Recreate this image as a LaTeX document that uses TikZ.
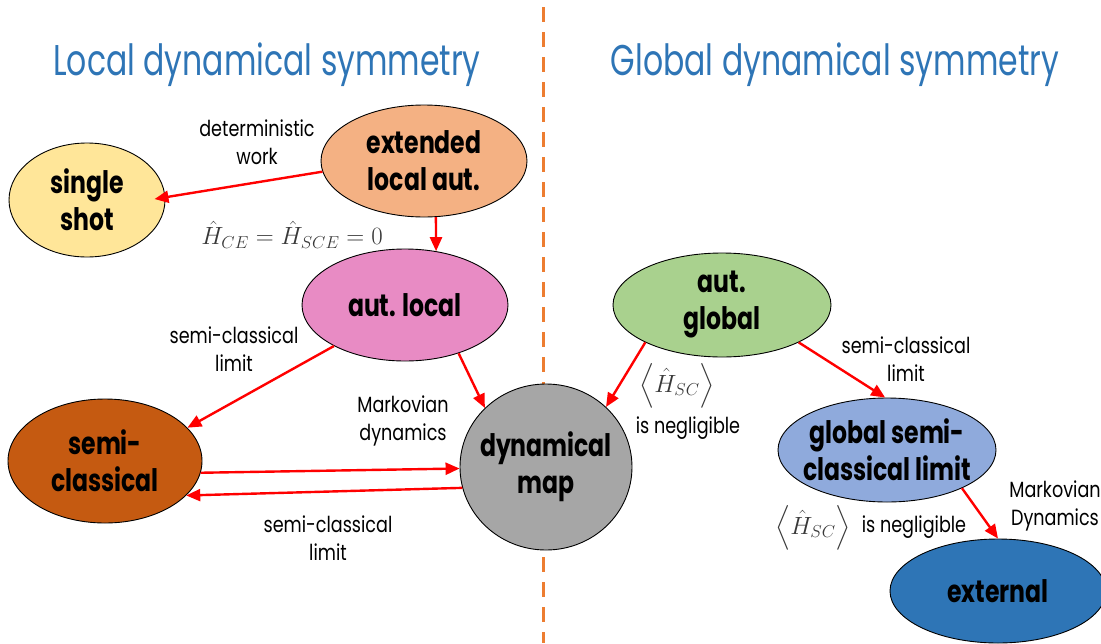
\documentclass[tikz,border=0pt]{standalone}
\usepackage{exscale}
\usepackage[no-math]{fontspec}
\usetikzlibrary{shapes.geometric,arrows.meta}
\newfontfamily\nfont[FakeStretch=0.76]{Poppins}
\newfontfamily\lfont[FakeStretch=0.8]{Poppins}
\newfontfamily\tfont[FakeStretch=0.733]{Poppins}
\definecolor{cyellow}{HTML}{FFE699}
\definecolor{corange}{HTML}{F4B183}
\definecolor{cpink}{HTML}{E88BC4}
\definecolor{cbrown}{HTML}{C55A11}
\definecolor{cgray}{HTML}{A6A6A6}
\definecolor{cgreen}{HTML}{A9D18E}
\definecolor{clblue}{HTML}{8FAADC}
\definecolor{cblue}{HTML}{2E75B6}
\definecolor{cdash}{HTML}{ED7D31}
\definecolor{cred}{HTML}{FF0000}
\definecolor{cmath}{HTML}{383838}
\newcommand{\angH}{\left\langle\vrule height 24pt depth 12pt width 0pt\hat H_{SC}\right\rangle}
\tikzset{
  bub/.style={ellipse, draw=black, line width=0.9pt, inner sep=0pt},
  btxt/.style={align=center, inner sep=0pt, text=black,
    font=\nfont\bfseries\fontsize{31}{37}\selectfont},
  arr/.style={draw=cred, line width=2.4pt, -{Triangle[length=14pt,width=12pt]}},
  lab/.style={font=\lfont\fontsize{22}{28}\selectfont, align=center, text=black, inner sep=0pt},
  mlab/.style={font=\fontsize{24}{28}\selectfont, text=cmath, inner sep=0pt},
  ttl/.style={font=\tfont\fontsize{43}{50}\selectfont, text=cblue, inner sep=0pt},
  divider/.style={draw=cdash, line width=3pt, dash pattern=on 15pt off 10pt},
}
\begin{document}
\begin{tikzpicture}[x=1pt,y=-1pt]
\useasboundingbox (0,0) rectangle (1101,643);
% divider
\coordinate (dtop) at (543,7);
\coordinate (dbot) at (543,643);
\draw[divider] (dtop) -- (dbot);
% titles
\node[ttl] (tl) at (267,65) {Local dynamical symmetry};
\node[ttl] (tg) at (835,65) {Global dynamical symmetry};
% nodes
\node[bub, fill=cyellow, minimum width=156pt, minimum height=114pt,
  label={[btxt]center:{single\\shot}}] (single) at (87,200) {};
\node[bub, fill=corange, minimum width=206pt, minimum height=112pt,
  label={[btxt]center:{extended\\local aut.}}] (ext) at (424,161) {};
\node[bub, fill=cpink, minimum width=206pt, minimum height=112pt,
  label={[btxt]center:{aut. local}}] (aut) at (405,305) {};
\node[bub, fill=cbrown, minimum width=194pt, minimum height=124pt,
  label={[btxt]center:{semi-\\classical}}] (semi) at (105,461) {};
\node[bub, fill=cgray, minimum width=172pt, minimum height=166pt,
  label={[btxt]center:{dynamical\\map}}] (dyn) at (546,467) {};
\node[bub, fill=cgreen, minimum width=218pt, minimum height=104pt,
  label={[btxt]center:{aut.\\global}}] (ag) at (722,305) {};
\node[bub, fill=clblue, minimum width=218pt, minimum height=104pt,
  label={[btxt]center:{global semi-\\classical limit}}] (gs) at (887,450) {};
\node[bub, fill=cblue, minimum width=216pt, minimum height=104pt,
  label={[btxt]center:{external}}] (extl) at (998,591) {};
% arrows
\draw[arr, shorten >=-11pt] (ext.186) -- (single.2);
\draw[arr] (ext.-78) -- (aut.60);
\draw[arr] (aut.210) -- (semi.22);
\draw[arr] (aut.-42) -- (dyn.136);
\draw[arr] (semi.-7) -- (dyn.181);
\draw[arr] (dyn.194) -- (semi.-23);
\draw[arr] (ag.206) -- (dyn.45);
\draw[arr] (ag.-26) -- (gs.92);
\draw[arr] (gs.-27) -- (extl.north);
% labels
\node[lab] (l1) at (257,142) {deterministic\\work};
\node[mlab] (m1) at (292,235) {$\hat H_{CE}=\hat H_{SCE}=0$};
\node[lab] (l2) at (234,349) {semi-classical\\limit};
\node[lab] (l3) at (403,421) {Markovian\\dynamics};
\node[lab] (l4) at (328,538) {semi-classical\\limit};
\node[mlab] (m2) at (677,386) {$\angH$};
\node[lab] (l5) at (688,428) {is negligible};
\node[lab] (l6) at (906,359) {semi-classical\\limit};
\node[mlab] (m3) at (813,528) {$\angH$};
\node[lab] (l7) at (914,527) {is negligible};
\node[lab] (l8) at (1055,506) {Markovian\\Dynamics};
\end{tikzpicture}
\end{document}
